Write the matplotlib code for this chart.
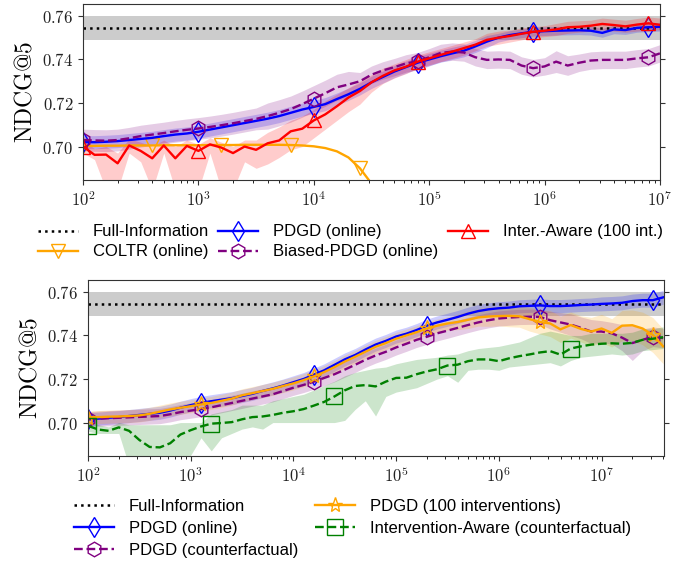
import numpy as np
import matplotlib.pyplot as plt
from matplotlib.ticker import FixedLocator, FuncFormatter, NullFormatter

plt.rcParams['mathtext.fontset'] = 'cm'
plt.rcParams['font.family'] = ['Liberation Sans', 'DejaVu Sans']

# ---------------- data: top panel (x = log10 of iterations, step 0.1) ----------------
top_logx = np.round(np.arange(2.0, 7.01, 0.1), 1)
full_info = 0.7545
full_info_sd = 0.0055

coltr_logx = top_logx[:27]
coltr = [0.7003, 0.7003, 0.7004, 0.7004, 0.7005, 0.7005, 0.7005, 0.7006, 0.7006, 0.7006,
         0.7006, 0.7007, 0.7007, 0.7007, 0.7008, 0.7008, 0.7008, 0.7008, 0.7007, 0.7005,
         0.7001, 0.6993, 0.6978, 0.6950, 0.6900, 0.6830, 0.6740]

pdgd_top = [0.7020, 0.7020, 0.7022, 0.7025, 0.7030, 0.7035, 0.7040, 0.7048, 0.7055, 0.7060,
            0.7068, 0.7078, 0.7088, 0.7098, 0.7108, 0.7118, 0.7128, 0.7140, 0.7155, 0.7170,
            0.7182, 0.7195, 0.7218, 0.7240, 0.7265, 0.7295, 0.7320, 0.7345, 0.7365, 0.7385,
            0.7400, 0.7415, 0.7428, 0.7440, 0.7460, 0.7482, 0.7500, 0.7512, 0.7520, 0.7527,
            0.7530, 0.7532, 0.7533, 0.7534, 0.7532, 0.7522, 0.7538, 0.7535, 0.7545, 0.7548,
            0.7550]
pdgd_top_sd = [0.003] * 22 + [0.0028] * 14 + [0.002] * 15

biased = [0.7030, 0.7028, 0.7027, 0.7030, 0.7038, 0.7048, 0.7055, 0.7062, 0.7070, 0.7077,
          0.7083, 0.7090, 0.7098, 0.7107, 0.7117, 0.7127, 0.7140, 0.7155, 0.7172, 0.7195,
          0.7220, 0.7245, 0.7272, 0.7285, 0.7300, 0.7330, 0.7350, 0.7365, 0.7382, 0.7392,
          0.7410, 0.7430, 0.7436, 0.7432, 0.7410, 0.7398, 0.7400, 0.7398, 0.7372, 0.7360,
          0.7368, 0.7390, 0.7372, 0.7385, 0.7395, 0.7398, 0.7398, 0.7398, 0.7405, 0.7410,
          0.7428]
biased_sd = [0.005] * 16 + [0.006] * 8 + [0.004] * 17 + [0.005, 0.0045] + [0.004] * 8

inter_top = [0.7000, 0.6962, 0.6963, 0.6923, 0.7005, 0.6980, 0.6946, 0.7005, 0.6946, 0.7003,
             0.6980, 0.7010, 0.6995, 0.6970, 0.7000, 0.6985, 0.7015, 0.7028, 0.7070, 0.7082,
             0.7120, 0.7148, 0.7185, 0.7225, 0.7255, 0.7295, 0.7325, 0.7350, 0.7367, 0.7390,
             0.7405, 0.7421, 0.7436, 0.7452, 0.7468, 0.7490, 0.7500, 0.7508, 0.7518, 0.7527,
             0.7532, 0.7538, 0.7548, 0.7550, 0.7555, 0.7563, 0.7558, 0.7552, 0.7560, 0.7566,
             0.7559]
inter_top_lo = [0.697, 0.694, 0.680, 0.680, 0.697, 0.693, 0.680, 0.697, 0.680, 0.680,
                0.680, 0.697, 0.680, 0.680, 0.693, 0.690, 0.692, 0.695, 0.6985, 0.700,
                0.704, 0.708, 0.712, 0.716, 0.7195, 0.725, 0.729, 0.7315, 0.7335, 0.736,
                0.7375, 0.739, 0.7405, 0.742, 0.744, 0.746, 0.747, 0.748, 0.749, 0.750,
                0.7505, 0.751, 0.752, 0.7525, 0.753, 0.7535, 0.753, 0.7525, 0.753, 0.7535,
                0.7535]
inter_top_hi = [0.703, 0.699, 0.700, 0.697, 0.7035, 0.702, 0.700, 0.703, 0.700, 0.703,
                0.701, 0.704, 0.702, 0.700, 0.703, 0.703, 0.7065, 0.709, 0.712, 0.714,
                0.717, 0.721, 0.724, 0.727, 0.730, 0.733, 0.736, 0.738, 0.740, 0.742,
                0.7435, 0.745, 0.7465, 0.748, 0.7495, 0.752, 0.753, 0.7535, 0.7545, 0.755,
                0.7555, 0.7565, 0.7575, 0.7578, 0.758, 0.759, 0.7585, 0.758, 0.7588, 0.7595,
                0.759]

# ---------------- data: bottom panel ----------------
bot_logx = np.round(np.arange(2.0, 7.61, 0.1), 1)

pdgd_online = [0.7015, 0.7018, 0.7022, 0.7025, 0.7030, 0.7035, 0.7040, 0.7045, 0.7055, 0.7068,
               0.7080, 0.7090, 0.7098, 0.7105, 0.7112, 0.7122, 0.7132, 0.7145, 0.7157, 0.7170,
               0.7185, 0.7200, 0.7220, 0.7240, 0.7265, 0.7290, 0.7310, 0.7335, 0.7358, 0.7375,
               0.7395, 0.7408, 0.7425, 0.7445, 0.7460, 0.7472, 0.7485, 0.7500, 0.7512, 0.7520,
               0.7525, 0.7528, 0.7534, 0.7536, 0.7538, 0.7535, 0.7535, 0.7537, 0.7540, 0.7542,
               0.7545, 0.7547, 0.7550, 0.7558, 0.7562, 0.7562, 0.7575]
pdgd_online_sd = [0.003] * 50 + [0.0032] * 7

pdgd_cf = [0.7015, 0.7018, 0.7020, 0.7022, 0.7024, 0.7026, 0.7028, 0.7030, 0.7038, 0.7048,
           0.7055, 0.7062, 0.7070, 0.7080, 0.7090, 0.7100, 0.7110, 0.7120, 0.7130, 0.7145,
           0.7160, 0.7173, 0.7188, 0.7205, 0.7222, 0.7243, 0.7265, 0.7288, 0.7308, 0.7325,
           0.7345, 0.7362, 0.7380, 0.7394, 0.7410, 0.7422, 0.7435, 0.7448, 0.7460, 0.7470,
           0.7478, 0.7482, 0.7485, 0.7486, 0.7485, 0.7470, 0.7460, 0.7450, 0.7435, 0.7418,
           0.7418, 0.7410, 0.7390, 0.7365, 0.7380, 0.7394, 0.7388]
pdgd_cf_sd = [0.0035] * 45 + [0.004, 0.0045, 0.005, 0.005, 0.0055, 0.005, 0.005, 0.006,
                              0.008, 0.005, 0.0045, 0.0045]

pdgd_100 = [0.7022, 0.7025, 0.7027, 0.7028, 0.7030, 0.7033, 0.7040, 0.7050, 0.7060, 0.7068,
            0.7075, 0.7083, 0.7090, 0.7100, 0.7110, 0.7125, 0.7135, 0.7145, 0.7155, 0.7168,
            0.7180, 0.7195, 0.7212, 0.7232, 0.7255, 0.7280, 0.7302, 0.7325, 0.7348, 0.7365,
            0.7385, 0.7400, 0.7415, 0.7432, 0.7445, 0.7455, 0.7462, 0.7472, 0.7483, 0.7487,
            0.7489, 0.7490, 0.7488, 0.7475, 0.7462, 0.7455, 0.7428, 0.7448, 0.7430, 0.7418,
            0.7432, 0.7412, 0.7445, 0.7447, 0.7432, 0.7402, 0.7350]
pdgd_100_sd = [0.003] * 36 + [0.0035, 0.004, 0.004, 0.0045, 0.0045, 0.005, 0.005, 0.0055,
                              0.0055, 0.006, 0.006, 0.006, 0.006, 0.0065, 0.0065, 0.0065,
                              0.007, 0.007, 0.0075, 0.008, 0.008]

inter_cf = [0.6985, 0.6968, 0.6962, 0.6978, 0.6962, 0.6920, 0.6888, 0.6886, 0.6905, 0.6945,
            0.6965, 0.6982, 0.6995, 0.6998, 0.7002, 0.7015, 0.7025, 0.7028, 0.7035, 0.7045,
            0.7052, 0.7062, 0.7078, 0.7095, 0.7120, 0.7148, 0.7168, 0.7172, 0.7166, 0.7188,
            0.7205, 0.7206, 0.7222, 0.7235, 0.7245, 0.7262, 0.7266, 0.7282, 0.7290, 0.7290,
            0.7282, 0.7295, 0.7305, 0.7313, 0.7322, 0.7328, 0.7312, 0.7340, 0.7350, 0.7358,
            0.7362, 0.7364, 0.7362, 0.7366, 0.7380, 0.7385, 0.7392]
inter_cf_lo = [0.696, 0.695, 0.695, 0.695, 0.680, 0.680, 0.680, 0.680, 0.680, 0.680,
               0.685, 0.693, 0.687, 0.693, 0.695, 0.697, 0.698, 0.697, 0.700, 0.700,
               0.700, 0.700, 0.700, 0.700, 0.700, 0.701, 0.706, 0.710, 0.703, 0.712,
               0.714, 0.715, 0.716, 0.718, 0.720, 0.7215, 0.7185, 0.724, 0.7245, 0.7245,
               0.724, 0.7255, 0.726, 0.7265, 0.727, 0.7275, 0.726, 0.7285, 0.730, 0.7305,
               0.731, 0.7315, 0.731, 0.7315, 0.733, 0.7335, 0.734]
inter_cf_hi = [0.701, 0.699, 0.698, 0.700, 0.699, 0.699, 0.699, 0.699, 0.699, 0.700,
               0.700, 0.700, 0.704, 0.705, 0.706, 0.708, 0.708, 0.708, 0.710, 0.711,
               0.712, 0.713, 0.715, 0.717, 0.719, 0.7215, 0.723, 0.724, 0.725, 0.7255,
               0.727, 0.728, 0.729, 0.7295, 0.730, 0.731, 0.7315, 0.733, 0.734, 0.7345,
               0.735, 0.736, 0.737, 0.739, 0.741, 0.742, 0.741, 0.740, 0.740, 0.741,
               0.741, 0.741, 0.741, 0.7415, 0.743, 0.743, 0.744]

# ---------------- drawing ----------------
fig = plt.figure(figsize=(6.94, 5.61), dpi=100)
ax1 = fig.add_axes([0.1196, 0.679, 0.8314, 0.314])
ax2 = fig.add_axes([0.1268, 0.187, 0.8302, 0.314])

lw = 1.7
mk = dict(markerfacecolor='none', markeredgewidth=1.0)


def band(ax, x, lo, hi, color, alpha=0.2):
    ax.fill_between(x, lo, hi, color=color, alpha=alpha, linewidth=0)


def full_information(ax, xlim):
    ax.axhspan(full_info - full_info_sd, full_info + full_info_sd, color='gray', alpha=0.4, lw=0)
    return ax.plot(xlim, [full_info, full_info], ':', color='black', lw=1.8,
                   label='Full-Information')[0]


# top
xt = 10 ** top_logx
h_fi = full_information(ax1, [1e2, 1e7])
band(ax1, xt, np.array(pdgd_top) - pdgd_top_sd, np.array(pdgd_top) + pdgd_top_sd, 'blue')
band(ax1, xt, np.array(biased) - biased_sd, np.array(biased) + biased_sd, 'purple')
band(ax1, xt, inter_top_lo, inter_top_hi, 'red')
h_coltr, = ax1.plot(10 ** coltr_logx, coltr, '-', color='orange', lw=lw, marker='v', ms=10,
                    markevery=[0, 6, 12, 18, 24], markeredgecolor='orange', label='COLTR (online)', **mk)
h_pdgd, = ax1.plot(xt, pdgd_top, '-', color='blue', lw=lw, marker='d', ms=10.5,
                   markevery=[0, 10, 20, 29, 39, 49], markeredgecolor='blue', label='PDGD (online)', **mk)
h_biased, = ax1.plot(xt, biased, '--', color='purple', lw=lw, marker='h', ms=10.5,
                     markevery=[0, 10, 20, 29, 39, 49], markeredgecolor='purple',
                     label='Biased-PDGD (online)', **mk)
h_inter, = ax1.plot(xt, inter_top, '-', color='red', lw=lw, marker='^', ms=10,
                    markevery=[0, 10, 20, 29, 39, 49], markeredgecolor='red',
                    label='Inter.-Aware (100 int.)', **mk)
ax1.set_xlim(1e2, 1e7)

# bottom
xb = 10 ** bot_logx
g_fi = full_information(ax2, [1e2, 10 ** 7.61])
band(ax2, xb, np.array(pdgd_online) - pdgd_online_sd, np.array(pdgd_online) + pdgd_online_sd, 'blue')
band(ax2, xb, np.array(pdgd_cf) - pdgd_cf_sd, np.array(pdgd_cf) + pdgd_cf_sd, 'purple')
band(ax2, xb, np.array(pdgd_100) - pdgd_100_sd, np.array(pdgd_100) + pdgd_100_sd, 'orange')
band(ax2, xb, inter_cf_lo, inter_cf_hi, 'green')
every = [0, 11, 22, 33, 44, 55]
g_on, = ax2.plot(xb, pdgd_online, '-', color='blue', lw=lw, marker='d', ms=10.5, markevery=every,
                 markeredgecolor='blue', label='PDGD (online)', **mk)
g_cf, = ax2.plot(xb, pdgd_cf, '--', color='purple', lw=lw, marker='h', ms=10.5, markevery=every,
                 markeredgecolor='purple', label='PDGD (counterfactual)', **mk)
g_100, = ax2.plot(xb, pdgd_100, '-', color='orange', lw=lw, marker='*', ms=11, markevery=every,
                  markeredgecolor='orange', label='PDGD (100 interventions)', **mk)
g_ia, = ax2.plot(xb, inter_cf, '--', color='green', lw=lw, marker='s', ms=11,
                 markevery=[0, 12, 24, 35, 47], markeredgecolor='green',
                 label='Intervention-Aware (counterfactual)', **mk)
ax2.set_xlim(1e2, 10 ** 7.61)

for ax in (ax1, ax2):
    ax.set_xscale('log')
    ax.set_ylim(0.6846, 0.7655)
    ax.yaxis.set_major_locator(FixedLocator([0.70, 0.72, 0.74, 0.76]))
    ax.yaxis.set_major_formatter(FuncFormatter(lambda v, p: r'$%.2f$' % v))
    ax.xaxis.set_major_formatter(FuncFormatter(lambda v, p: r'$10^{%d}$' % round(np.log10(v))))
    ax.xaxis.set_minor_formatter(NullFormatter())
    ax.tick_params(axis='both', which='major', labelsize=12, direction='out', colors='#333333',
                   labelcolor='#222222')
    ax.tick_params(axis='y', right=True)
    ax.set_ylabel(r'$\mathrm{NDCG@5}$', fontsize=17, labelpad=4)
    for s in ax.spines.values():
        s.set_color('#333333')

fig.legend([h_fi, h_coltr, h_pdgd, h_biased, h_inter],
           [h.get_label() for h in [h_fi, h_coltr, h_pdgd, h_biased, h_inter]],
           loc='upper center', bbox_to_anchor=(0.505, 0.612), ncol=3, frameon=False,
           fontsize=12, handlelength=2.4, handletextpad=0.9, columnspacing=0.55,
           labelspacing=0.3, borderaxespad=0)
fig.legend([g_fi, g_on, g_cf, g_100, g_ia],
           [h.get_label() for h in [g_fi, g_on, g_cf, g_100, g_ia]],
           loc='upper center', bbox_to_anchor=(0.508, 0.122), ncol=2, frameon=False,
           fontsize=12, handlelength=2.4, handletextpad=0.9, columnspacing=1.0,
           labelspacing=0.4, borderaxespad=0)

fig.savefig('out.png', dpi=100)
